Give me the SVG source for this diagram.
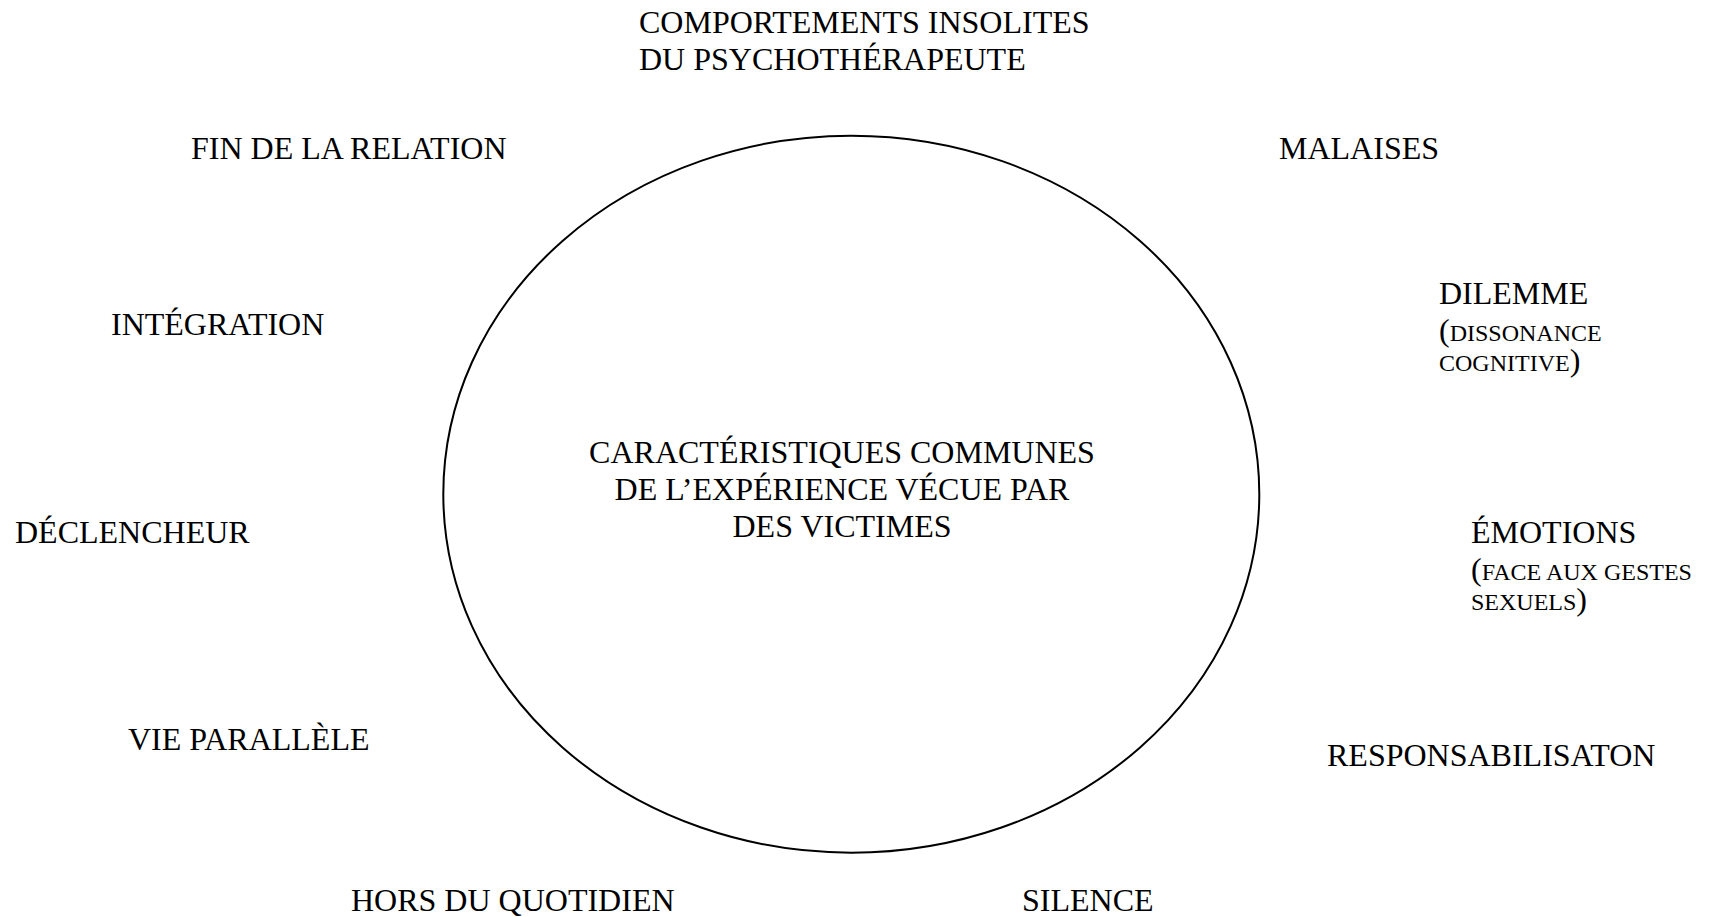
<svg xmlns="http://www.w3.org/2000/svg" width="1711" height="917" viewBox="0 0 1711 917">
<style>
text{font-family:"Liberation Serif","Times New Roman",serif;font-size:32px;fill:#000}
.sc{font-size:24px}
</style>
<rect width="1711" height="917" fill="#fff"/>
<g id="connectors"></g>
<g id="center">
<ellipse cx="851.3" cy="494.2" rx="408" ry="358.5" fill="none" stroke="#000" stroke-width="2"/>
<text text-anchor="middle" x="842" y="463">CARACTÉRISTIQUES COMMUNES</text>
<text text-anchor="middle" x="842" y="500">DE L’EXPÉRIENCE VÉCUE PAR</text>
<text text-anchor="middle" x="842" y="537">DES VICTIMES</text>
</g>
<g id="comportements">
<text x="639" y="33">COMPORTEMENTS INSOLITES</text>
<text x="639" y="70">DU PSYCHOTHÉRAPEUTE</text>
</g>
<g id="fin"><text x="191" y="159">FIN DE LA RELATION</text></g>
<g id="malaises"><text x="1279" y="159">MALAISES</text></g>
<g id="dilemme">
<text x="1439" y="304">DILEMME</text>
<text x="1439" y="341">(<tspan class="sc">DISSONANCE</tspan></text>
<text x="1439" y="371"><tspan class="sc">COGNITIVE</tspan>)</text>
</g>
<g id="integration"><text x="111" y="335">INTÉGRATION</text></g>
<g id="declencheur"><text x="15" y="543">DÉCLENCHEUR</text></g>
<g id="emotions">
<text x="1471" y="543">ÉMOTIONS</text>
<text x="1471" y="580">(<tspan class="sc">FACE AUX GESTES</tspan></text>
<text x="1471" y="610"><tspan class="sc">SEXUELS</tspan>)</text>
</g>
<g id="vie"><text x="128" y="750">VIE PARALLÈLE</text></g>
<g id="responsabilisaton"><text x="1327" y="766">RESPONSABILISATON</text></g>
<g id="hors"><text x="351" y="911">HORS DU QUOTIDIEN</text></g>
<g id="silence"><text x="1022" y="911">SILENCE</text></g>
</svg>
